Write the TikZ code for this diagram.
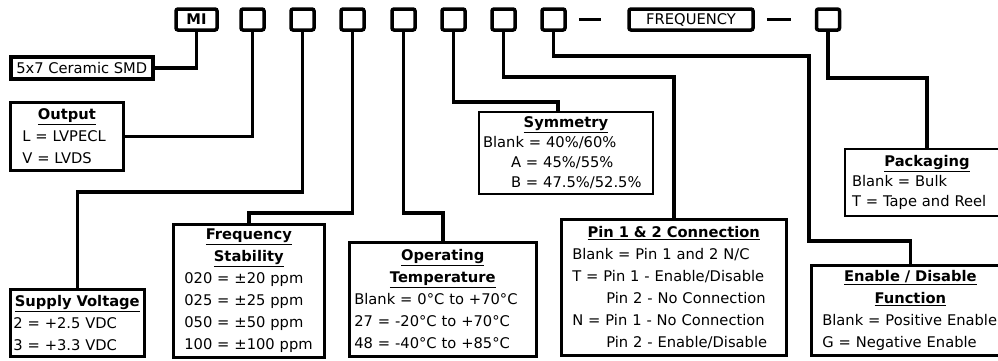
\documentclass[tikz,border=0pt]{standalone}
\usepackage{fontspec}
\setmainfont{DejaVu Sans}

\begin{document}
\begin{tikzpicture}[x=1pt, y=-1pt,
  digit/.style={draw, line width=3.5pt, rounded corners=2pt,
    minimum width=23pt, minimum height=21pt, inner sep=0pt,
    font=\fontsize{14.7}{18}\selectfont},
  infobox/.style={draw, line width=2.6pt, anchor=north west, align=left,
    inner ysep=0pt, font=\fontsize{14.7}{22}\selectfont},
  wire/.style={line width=3.5pt},
]
  \useasboundingbox (0,0) rectangle (998,360);
  \clip (0,0) rectangle (998,360);

  \node[digit, minimum width=41pt, font=\fontsize{14.7}{18}\selectfont\bfseries] (mi) at (196.5,19.5) {MI};
  \node[digit] (b1) at (252.5,19.5) {};
  \node[digit] (b2) at (302.5,19.5) {};
  \node[digit] (b3) at (352.5,19.5) {};
  \node[digit] (b4) at (403.5,19.5) {};
  \node[digit] (b5) at (453.5,19.5) {};
  \node[digit] (b6) at (503.5,19.5) {};
  \node[digit] (b7) at (553.5,19.5) {};
  \node[digit, minimum width=124pt] (freq) at (691,19.5) {FREQUENCY};
  \node[digit] (b8) at (828,19.5) {};
  \draw[wire] ([xshift=12pt]b7.east) -- ([xshift=-26pt]freq.west);
  \draw[wire] ([xshift=12pt]freq.east) -- ([xshift=-23.5pt]b8.west);

  \node[infobox, line width=3.5pt, minimum width=142pt, minimum height=22pt,
    inner xsep=4pt, align=center] (smd) at (9,55) {5x7 Ceramic SMD};
  \node[infobox, text width=89pt, inner xsep=12pt, minimum height=68pt] (output) at (9,101)
    {\makebox[\linewidth]{\bfseries\underline{Output}}\\ L = LVPECL\\ V = LVDS};
  \node[infobox, text width=128pt, inner xsep=3pt, minimum height=67pt] (supply) at (9,288)
    {\makebox[\linewidth]{\bfseries\underline{Supply Voltage}}\\ 2 = +2.5 VDC\\ 3 = +3.3 VDC};
  \node[infobox, text width=129pt, inner xsep=11pt, minimum height=133pt] (stab) at (172,223)
    {\makebox[\linewidth]{\bfseries\underline{Frequency}}\\
     \makebox[\linewidth]{\bfseries\underline{Stability}}\\
     020 = ±20 ppm\\ 025 = ±25 ppm\\ 050 = ±50 ppm\\ 100 = ±100 ppm};
  \node[infobox, text width=177pt, inner xsep=5pt, minimum height=114pt] (temp) at (348,241)
    {\makebox[\linewidth]{\bfseries\underline{Operating}}\\
     \makebox[\linewidth]{\bfseries\underline{Temperature}}\\
     Blank = 0°C to +70°C\\ 27 = -20°C to +70°C\\ 48 = -40°C to +85°C};
  \node[infobox, line width=2pt, text width=166pt, inner xsep=4pt, minimum height=82pt,
    font=\fontsize{14.7}{20}\selectfont] (sym) at (478,111)
    {\makebox[\linewidth]{\bfseries\underline{Symmetry}}\\
     Blank = 40\%/60\%\\ \hspace*{28pt}A = 45\%/55\%\\ \hspace*{28pt}B = 47.5\%/52.5\%};
  \node[infobox, text width=203pt, inner xsep=11pt, minimum height=136pt] (pin) at (560,218)
    {\makebox[\linewidth]{\bfseries\underline{Pin 1 \& 2 Connection}}\\
     Blank = Pin 1 and 2 N/C\\ T = Pin 1 - Enable/Disable\\
     \hspace*{34pt}Pin 2 - No Connection\\ N = Pin 1 - No Connection\\
     \hspace*{34pt}Pin 2 - Enable/Disable};
  \node[infobox, line width=2pt, text width=150pt, inner xsep=7pt, minimum height=67pt,
    font=\fontsize{14.7}{20}\selectfont] (pack) at (844,148)
    {\makebox[\linewidth]{\bfseries\underline{Packaging}}\\ Blank = Bulk\\ T = Tape and Reel};
  \node[infobox, text width=176pt, inner xsep=11pt, minimum height=90pt] (enable) at (810,264)
    {\makebox[\linewidth]{\bfseries\underline{Enable / Disable}}\\
     \makebox[\linewidth]{\bfseries\underline{Function}}\\
     Blank = Positive Enable\\ G = Negative Enable};

  \draw[wire] (mi.south) |- (smd.east);
  \draw[wire] (b1.south) |- (output.east);
  \draw[wire] (b2.south) -- (b2.south |- 0,192) -| (supply.north);
  \draw[wire] (b3.south) -- (b3.south |- 0,213) -| (stab.north);
  \draw[wire] (b4.south) -- (b4.south |- 0,213) -| (temp.north);
  \draw[wire] (b5.south) -- (b5.south |- 0,102) -| ([xshift=-8pt]sym.north);
  \draw[wire] (b6.south) -- (b6.south |- 0,77) -| (pin.north);
  \draw[wire] (b7.south) |- (809,56) |- ([yshift=23pt]enable.north) -- (enable.north);
  \draw[wire] (b8.south) -- (b8.south |- 0,78) -| (pack.north);
\end{tikzpicture}
\end{document}
